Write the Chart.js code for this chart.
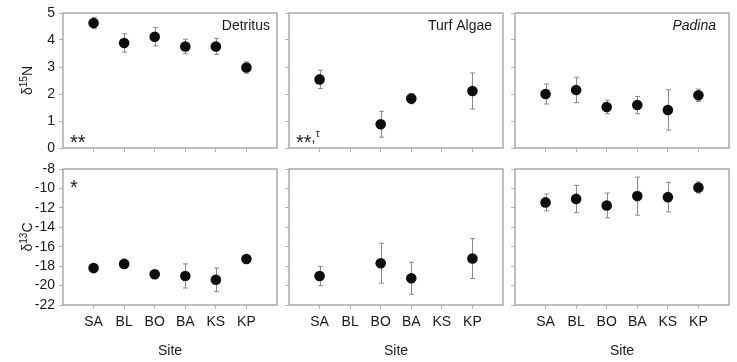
<!DOCTYPE html>
<html>
<head>
<meta charset="utf-8">
<script src="https://cdn.jsdelivr.net/npm/chart.js@4/dist/chart.umd.min.js"></script>
<style>
  html, body { margin: 0; padding: 0; background: #fff; }
  #wrap { position: relative; width: 737px; height: 362px; }
  #wrap canvas { position: absolute; left: 0; top: 0; }
</style>
</head>
<body>
<div id="wrap"></div>
<script>
// Sites along x, in plotting order.
const SITES = ["SA", "BL", "BO", "BA", "KS", "KP"];

// Y tick values per row.
const N15_TICKS = [0, 1, 2, 3, 4, 5];
const C13_TICKS = [-22, -20, -18, -16, -14, -12, -10, -8];

// δ15N means and standard errors (null = no sample at that site).
const DETRITUS_N15    = [4.63, 3.89, 4.12, 3.76, 3.76, 2.98];
const DETRITUS_N15_SE = [0.21, 0.34, 0.34, 0.27, 0.30, 0.21];
const TURF_N15        = [2.54, null, 0.88, 1.83, null, 2.11];
const TURF_N15_SE     = [0.34, null, 0.48, 0.19, null, 0.67];
const PADINA_N15      = [2.00, 2.15, 1.52, 1.59, 1.41, 1.95];
const PADINA_N15_SE   = [0.37, 0.47, 0.25, 0.32, 0.75, 0.23];

// δ13C means and standard errors.
const DETRITUS_C13    = [-18.20, -17.77, -18.84, -19.01, -19.40, -17.27];
const DETRITUS_C13_SE = [0.30, 0.48, 0.37, 1.24, 1.22, 0.35];
const TURF_C13        = [-19.02, null, -17.70, -19.25, null, -17.22];
const TURF_C13_SE     = [1.00, null, 2.05, 1.65, null, 2.05];
const PADINA_C13      = [-11.44, -11.08, -11.75, -10.79, -10.90, -9.90];
const PADINA_C13_SE   = [0.86, 1.39, 1.27, 1.96, 1.52, 0.57];

const FONT = "'Liberation Sans', Arial, sans-serif";
const TEXT = "#1a1a1a";
const FRAME = "#a9a9a9";
const WHISKER = "#8a8a8a";

Chart.defaults.font.family = FONT;
Chart.defaults.font.size = 14;
Chart.defaults.color = TEXT;

// Gray whiskers with short caps, drawn under the dots.
const errorBars = {
    id: "errorBars",
    beforeDatasetsDraw(chart) {
        const ds = chart.data.datasets[0];
        const { x, y } = chart.scales;
        const ctx = chart.ctx;
        ctx.save();
        ctx.strokeStyle = WHISKER;
        ctx.lineWidth = 1;
        ds.data.forEach((p, i) => {
            const e = ds.errors[i];
            const px = Math.round(x.getPixelForValue(p.x)) + 0.5;
            const top = y.getPixelForValue(p.y + e);
            const bot = y.getPixelForValue(p.y - e);
            ctx.beginPath();
            ctx.moveTo(px, top); ctx.lineTo(px, bot);
            ctx.moveTo(px - 2.5, top); ctx.lineTo(px + 2.5, top);
            ctx.moveTo(px - 2.5, bot); ctx.lineTo(px + 2.5, bot);
            ctx.stroke();
        });
        ctx.restore();
    },
};

// Box round the plot area, panel name, significance note, rotated δ title.
const panelDecor = {
    id: "panelDecor",
    afterDraw(chart, args, opts) {
        const ctx = chart.ctx;
        const a = chart.chartArea;
        ctx.save();
        ctx.strokeStyle = FRAME;
        ctx.lineWidth = 1.5;
        ctx.strokeRect(a.left, a.top, a.right - a.left, a.bottom - a.top);

        ctx.fillStyle = TEXT;
        if (opts.label) {
            ctx.font = (opts.italic ? "italic " : "") + "14px " + FONT;
            ctx.textAlign = "right";
            ctx.textBaseline = "middle";
            ctx.fillText(opts.label, a.right - opts.labelInset, a.top + 13);
        }
        if (opts.note) {
            ctx.font = "20px " + FONT;
            ctx.textAlign = "left";
            ctx.textBaseline = "alphabetic";
            let nx = a.left + 7;
            const ny = opts.noteAtTop ? a.top + 25 : a.bottom + 1;
            ctx.fillText(opts.note, nx, ny);
            if (opts.noteSup) {
                nx += ctx.measureText(opts.note).width;
                ctx.font = "14px " + FONT;
                ctx.fillText(",", nx, ny - 7);
                nx += ctx.measureText(",").width;
                ctx.font = "11px " + FONT;
                ctx.fillText(opts.noteSup, nx, ny - 12);
            }
        }
        if (opts.yTitle) {
            const [pre, sup, post] = opts.yTitle;
            ctx.translate(32, (a.top + a.bottom) / 2);
            ctx.rotate(-Math.PI / 2);
            ctx.textAlign = "left";
            ctx.textBaseline = "alphabetic";
            ctx.font = "14px " + FONT;
            const w1 = ctx.measureText(pre).width;
            const w3 = ctx.measureText(post).width;
            ctx.font = "10px " + FONT;
            const w2 = ctx.measureText(sup).width;
            let cx = -(w1 + w2 + w3) / 2;
            ctx.font = "14px " + FONT;
            ctx.fillText(pre, cx, 0);
            cx += w1;
            ctx.font = "10px " + FONT;
            ctx.fillText(sup, cx, -5);
            cx += w2;
            ctx.font = "14px " + FONT;
            ctx.fillText(post, cx, 0);
        }
        ctx.restore();
    },
};

const COLS = [
    { left: 63, right: 277 },
    { left: 289, right: 503 },
    { left: 515, right: 729 },
];
const ROWS = [
    { top: 13, bottom: 148 },
    { top: 169, bottom: 305 },
];

function makePanel(col, row, means, errors, yTicks, decor) {
    const canvas = document.createElement("canvas");
    canvas.width = 737;
    canvas.height = 362;
    document.getElementById("wrap").appendChild(canvas);

    const c = COLS[col], r = ROWS[row];
    const showY = col === 0;
    const showX = row === 1;
    const yW = showY ? 30 : 10;
    const xH = showX ? 57 : 10;

    const points = [];
    const errs = [];
    means.forEach((m, i) => {
        if (m === null) return;
        points.push({ x: i + 1, y: m });
        errs.push(errors[i]);
    });

    new Chart(canvas, {
        type: "scatter",
        data: {
            datasets: [{
                data: points,
                errors: errs,
                pointRadius: 5.3,
                pointBackgroundColor: "#0d0d0d",
                pointBorderWidth: 0,
            }],
        },
        options: {
            responsive: false,
            animation: false,
            devicePixelRatio: 1,
            events: [],
            layout: {
                padding: {
                    left: c.left - yW,
                    right: 737 - c.right,
                    top: r.top,
                    bottom: 362 - r.bottom - xH,
                },
            },
            plugins: {
                legend: { display: false },
                tooltip: { enabled: false },
                panelDecor: decor,
            },
            scales: {
                x: {
                    type: "linear",
                    min: 0,
                    max: SITES.length + 1,
                    afterBuildTicks: s => { s.ticks = SITES.map((_, i) => ({ value: i + 1 })); },
                    afterFit: s => { s.height = xH; },
                    ticks: {
                        display: showX,
                        autoSkip: false,
                        maxRotation: 0,
                        padding: 5,
                        callback: v => SITES[v - 1] || "",
                    },
                    grid: { drawOnChartArea: false, drawTicks: true, tickLength: 4, color: "#b5b5b5" },
                    border: { display: false },
                    title: { display: showX, text: "Site", padding: { top: 0, bottom: 2 } },
                },
                y: {
                    type: "linear",
                    min: yTicks[0],
                    max: yTicks[yTicks.length - 1],
                    afterBuildTicks: s => { s.ticks = yTicks.map(v => ({ value: v })); },
                    afterFit: s => { s.width = yW; },
                    ticks: { display: showY, padding: 4, autoSkip: false },
                    grid: { drawOnChartArea: false, drawTicks: true, tickLength: 4, color: "#b5b5b5" },
                    border: { display: false },
                },
            },
        },
        plugins: [errorBars, panelDecor],
    });
}

makePanel(0, 0, DETRITUS_N15, DETRITUS_N15_SE, N15_TICKS,
    { label: "Detritus", labelInset: 7, note: "**", yTitle: ["δ", "15", "N"] });
makePanel(1, 0, TURF_N15, TURF_N15_SE, N15_TICKS,
    { label: "Turf Algae", labelInset: 11, note: "**", noteSup: "τ" });
makePanel(2, 0, PADINA_N15, PADINA_N15_SE, N15_TICKS,
    { label: "Padina", italic: true, labelInset: 13 });
makePanel(0, 1, DETRITUS_C13, DETRITUS_C13_SE, C13_TICKS,
    { note: "*", noteAtTop: true, yTitle: ["δ", "13", "C"] });
makePanel(1, 1, TURF_C13, TURF_C13_SE, C13_TICKS, {});
makePanel(2, 1, PADINA_C13, PADINA_C13_SE, C13_TICKS, {});
</script>
</body>
</html>
